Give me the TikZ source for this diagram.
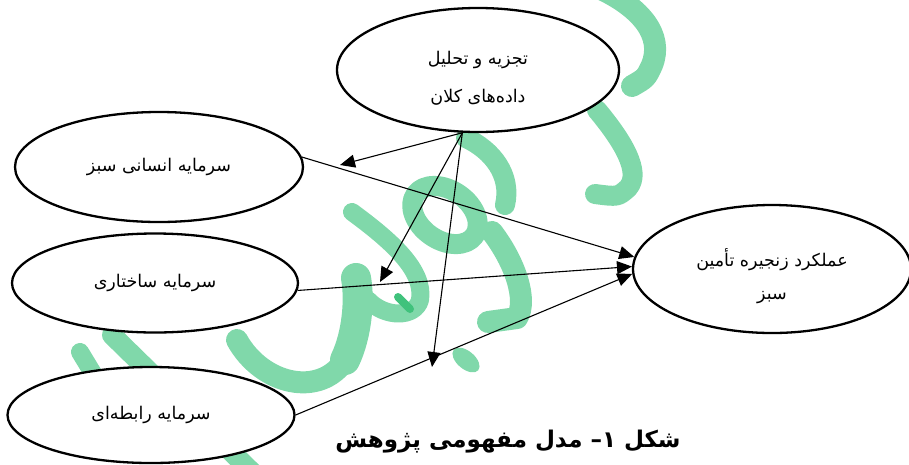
\documentclass[tikz,border=0pt]{standalone}
\usepackage{fontspec}
\usetikzlibrary{shapes.geometric,arrows.meta}
\TeXXeTstate=1
\newfontfamily\arabicfont[Script=Arabic]{DejaVu Sans}
\definecolor{wmgreen}{RGB}{128,216,170}
\definecolor{wmdark}{RGB}{64,194,124}
% two-line label, set a little below the middle of its ellipse
\newcommand{\twolines}[3]{\raisebox{-#3}[\height][\depth]{\begin{tabular}{@{}c@{}}#1\\#2\end{tabular}}}
\tikzset{
  wm/.style={draw=wmgreen, line cap=round, line join=round},
  concept/.style={ellipse, draw, line width=2.3pt, fill=white, inner sep=0pt,
    font=\arabicfont\fontsize{17.5}{38}\selectfont},
  link/.style={line width=1.1pt, -{Triangle[length=15pt,width=13pt]}},
}
\begin{document}
\begin{tikzpicture}[x=1pt,y=-1pt]
\useasboundingbox (0,0) rectangle (909,464);

% background calligraphy strokes
\draw[wm, line width=22pt] (603,-10) .. controls (640,8) and (664,35) .. (652,65) .. controls (646,78) .. (632,86);
\draw[wm, line width=20pt] (597,110) .. controls (622,140) and (642,172) .. (628,188) .. controls (618,197) .. (595,194);
\draw[wm, line width=20pt, rotate around={-35:(445,215)}] (445,215) ellipse [x radius=36, y radius=25];
\draw[wm, line width=20pt] (466,138) .. controls (492,150) and (512,175) .. (505,205);
\draw[wm, line width=22pt] (492,232) .. controls (515,262) and (528,300) .. (517,318) -- (488,322);
\fill[wmgreen, rotate around={-40:(466,360)}] (466,360) ellipse [x radius=16, y radius=9];
\draw[wm, line width=18pt] (352,212) .. controls (390,240) and (425,270) .. (420,300) .. controls (415,318) and (385,318) .. (368,300);
\draw[wm, line width=22pt] (237,340) .. controls (262,385) and (320,398) .. (345,360);
\draw[wm, line width=30pt] (345,360) .. controls (357,335) and (360,300) .. (356,278);
\draw[draw=wmdark, line width=8pt, line cap=round] (398,297) -- (410,309);
\draw[wm, line width=20pt] (112,335) -- (255,475);
\draw[wm, line width=18pt] (80,352) -- (100,385);

% concepts
\node[concept, minimum width=282pt, minimum height=124pt] (t) at (478,70)
  {\twolines{\beginR تجزیه و تحلیل\endR}{\beginR داده‌های کلان\endR}{6pt}};
\node[concept, minimum width=288pt, minimum height=110pt] (h) at (159,167)
  {\beginR سرمایه انسانی سبز\endR};
\node[concept, minimum width=286pt, minimum height=99pt] (s) at (155,283)
  {\beginR سرمایه ساختاری\endR};
\node[concept, minimum width=287pt, minimum height=96pt] (r) at (151,415)
  {\beginR سرمایه رابطه‌ای\endR};
\node[concept, minimum width=278pt, minimum height=128pt,
  font=\arabicfont\fontsize{17.5}{33}\selectfont] (g) at (772,269)
  {\twolines{\beginR عملکرد زنجیره تأمین\endR}{\beginR سبز\endR}{7pt}};

% free ends of the moderating arrows
\coordinate (m1) at (340,165);
\coordinate (m2) at (380,282);
\coordinate (m3) at (432,367);

\draw[link] (t.-104) -- (m1);
\draw[link] (t.-104) -- (m2);
\draw[link] (t.-104) -- (m3);

\draw[link] (h.4) -- (g.175);
\draw[link] (s.-3) -- (g.179);
\draw[link] (r.0) -- (g.182);

% caption
\node[font=\arabicfont\bfseries\fontsize{23}{27}\selectfont] (cap) at (508,442)
  {\beginR شکل ۱– مدل مفهومی پژوهش\endR};
\end{tikzpicture}
\end{document}
